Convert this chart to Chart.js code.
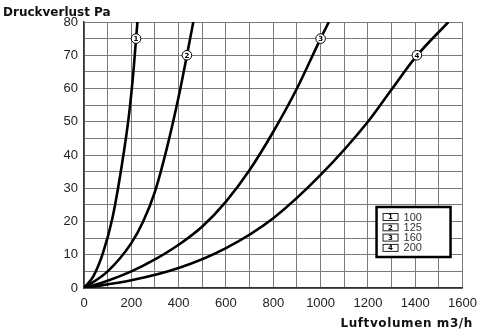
<!DOCTYPE html>
<html>
<head>
<meta charset="utf-8">
<script src="https://cdn.jsdelivr.net/npm/chart.js@4/dist/chart.umd.min.js"></script>
<style>
  html, body { margin: 0; padding: 0; background: #fff; }
  #wrap { width: 485px; height: 334px; position: relative; }
</style>
</head>
<body>
<div id="wrap"><canvas id="pressureChart" width="485" height="334"></canvas></div>
<script>
// duct size per curve (mm)
const sizes = ['100', '125', '160', '200'];
const curveNames = ['1', '2', '3', '4'];

// air volume (m3/h) and pressure loss (Pa) per curve
const flow1 = [0, 40, 80, 120, 160, 190, 210, 220, 226];
const loss1 = [0, 3.6, 10.5, 21, 37, 52, 66, 75, 80];
const flow2 = [0, 100, 200, 250, 300, 350, 400, 435, 462];
const loss2 = [0, 5, 13.5, 20, 29, 42, 57.5, 70, 80];
const flow3 = [0, 100, 200, 300, 400, 500, 600, 700, 800, 900, 1000, 1035];
const loss3 = [0, 2.2, 5, 8.6, 13, 18.5, 26, 35.5, 47, 60, 75, 80];
const flow4 = [0, 200, 400, 600, 800, 1000, 1200, 1300, 1400, 1540];
const loss4 = [0, 2.3, 6, 12, 21, 34, 50, 59.7, 69.3, 80];

// numbered markers sitting on the curves
const markerFlow = [220, 435, 1000, 1407];
const markerLoss = [75, 70, 75, 70];

// axis ticks
const xMax = 1600, xStep = 100, xLabelStep = 200;
const yMax = 80, yStep = 5, yLabelStep = 10;

function pairs(xs, ys) {
  return xs.map((x, i) => ({ x: x, y: ys[i] }));
}

const curves = [[flow1, loss1], [flow2, loss2], [flow3, loss3], [flow4, loss4]];

const decorations = {
  id: 'decorations',
  afterDatasetsDraw(chart) {
    const ctx = chart.ctx;
    const xs = chart.scales.x, ys = chart.scales.y;
    const area = chart.chartArea;
    ctx.save();

    // numbered circles on each curve
    markerFlow.forEach((q, i) => {
      const px = xs.getPixelForValue(q);
      const py = ys.getPixelForValue(markerLoss[i]);
      ctx.beginPath();
      ctx.arc(px, py, 4.8, 0, Math.PI * 2);
      ctx.fillStyle = '#fff';
      ctx.fill();
      ctx.lineWidth = 1;
      ctx.strokeStyle = '#000';
      ctx.stroke();
      ctx.fillStyle = '#000';
      ctx.font = 'bold 7px "DejaVu Sans"';
      ctx.textAlign = 'center';
      ctx.textBaseline = 'middle';
      ctx.fillText(curveNames[i], px, py + 0.5);
    });

    // legend box
    const bx = area.right - 86, by = area.bottom - 81, bw = 74, bh = 50;
    ctx.fillStyle = '#fff';
    ctx.fillRect(bx, by, bw, bh);
    ctx.lineWidth = 2.5;
    ctx.strokeStyle = '#000';
    ctx.strokeRect(bx, by, bw, bh);
    sizes.forEach((s, i) => {
      const rowY = by + 10 + i * 10.3;
      ctx.lineWidth = 1;
      ctx.strokeStyle = '#222';
      ctx.strokeRect(bx + 6.5, rowY - 3.5, 15, 7);
      ctx.fillStyle = '#000';
      ctx.font = 'bold 7px "DejaVu Sans"';
      ctx.textAlign = 'center';
      ctx.textBaseline = 'middle';
      ctx.fillText(curveNames[i], bx + 14, rowY + 0.5);
      ctx.fillStyle = '#333';
      ctx.font = '11px "Liberation Sans"';
      ctx.textAlign = 'left';
      ctx.fillText(s, bx + 27, rowY + 0.5);
    });

    // axis titles
    ctx.fillStyle = '#111';
    ctx.font = 'bold 12px "DejaVu Sans"';
    ctx.textAlign = 'left';
    ctx.textBaseline = 'middle';
    ctx.fillText('Druckverlust Pa', 3, 13);
    ctx.letterSpacing = '0.6px';
    ctx.textAlign = 'right';
    ctx.fillText('Luftvolumen m3/h', 473, 324);
    ctx.restore();
  }
};

const chartCanvas = document.getElementById('pressureChart').getContext('2d');
new Chart(chartCanvas, {
  type: 'scatter',
  data: {
    datasets: curves.map((c, i) => ({
      label: sizes[i],
      data: pairs(c[0], c[1]),
      showLine: true,
      borderColor: '#000',
      borderWidth: 2.6,
      pointRadius: 0,
      cubicInterpolationMode: 'monotone',
      fill: false,
    })),
  },
  options: {
    responsive: false,
    animation: false,
    layout: { padding: { top: 22, right: 9, left: 0, bottom: 0 } },
    plugins: {
      legend: { display: false },
      tooltip: { enabled: false },
    },
    scales: {
      x: {
        type: 'linear',
        min: 0,
        max: xMax,
        afterFit: (scale) => { scale.height = 46; },
        grid: { color: '#7a7a7a', lineWidth: 1, drawTicks: false },
        border: { color: '#333', width: 1.5 },
        ticks: {
          stepSize: xStep,
          padding: 8,
          color: '#222',
          font: { family: 'Liberation Sans', size: 13 },
          maxRotation: 0,
          autoSkip: false,
          callback: (v) => (v % xLabelStep === 0 ? String(v) : ''),
        },
      },
      y: {
        type: 'linear',
        min: 0,
        max: yMax,
        afterFit: (scale) => { scale.width = 84; },
        grid: { color: '#7a7a7a', lineWidth: 1, drawTicks: false },
        border: { color: '#333', width: 1.5 },
        ticks: {
          stepSize: yStep,
          padding: 6,
          color: '#222',
          font: { family: 'Liberation Sans', size: 13 },
          autoSkip: false,
          callback: (v) => (v % yLabelStep === 0 ? String(v) : ''),
        },
      },
    },
  },
  plugins: [decorations],
});
</script>
</body>
</html>
